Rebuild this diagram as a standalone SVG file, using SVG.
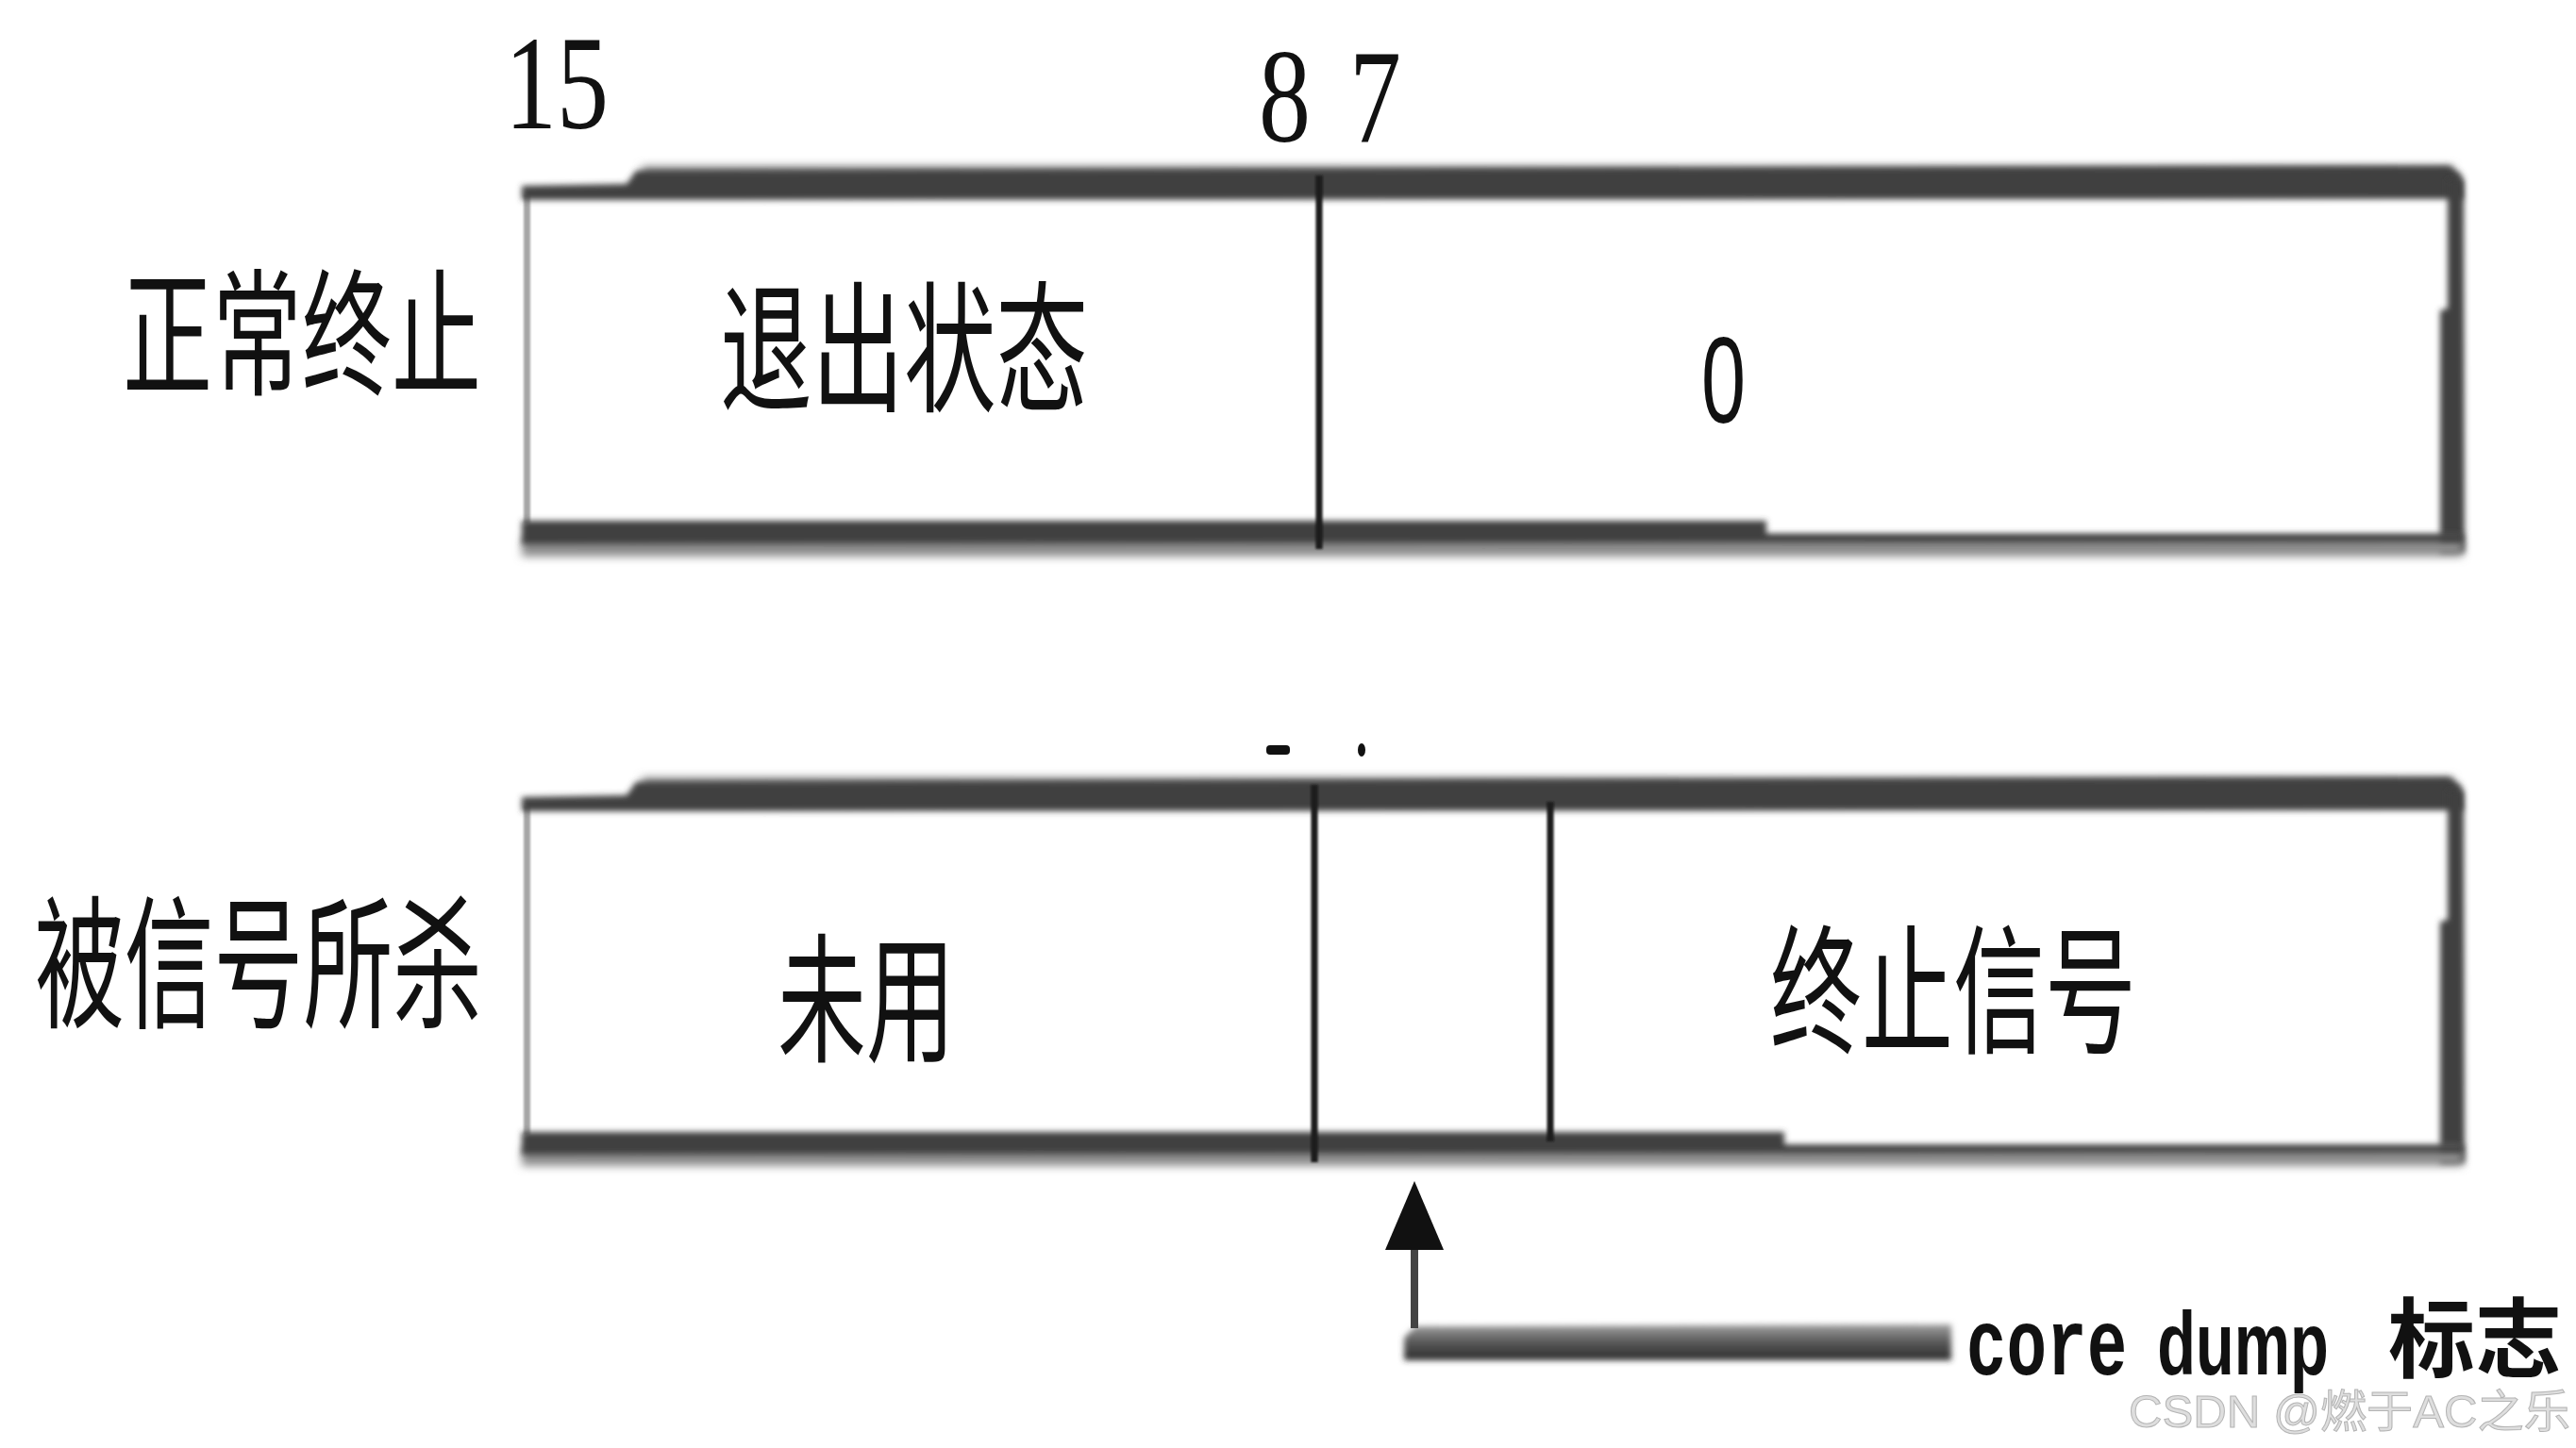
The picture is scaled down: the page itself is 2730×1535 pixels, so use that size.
<svg xmlns="http://www.w3.org/2000/svg" width="2730" height="1535" viewBox="0 0 2730 1535">
<defs>
<filter id="soft" filterUnits="userSpaceOnUse" x="0" y="0" width="2730" height="1535"><feGaussianBlur stdDeviation="3.2"/></filter>
<filter id="softer" filterUnits="userSpaceOnUse" x="0" y="0" width="2730" height="1535"><feGaussianBlur stdDeviation="5"/></filter>
<filter id="thin" filterUnits="userSpaceOnUse" x="0" y="0" width="2730" height="1535"><feGaussianBlur stdDeviation="1.2"/></filter>
<linearGradient id="lineGrad" x1="0" y1="0" x2="0" y2="1">
<stop offset="0" stop-color="#a0a0a0"/>
<stop offset="0.5" stop-color="#585858"/>
<stop offset="1" stop-color="#2a2a2a"/>
</linearGradient>
</defs>
<style>
.cjk{font-family:"Noto Sans CJK SC","Noto Sans CJK JP",sans-serif;fill:#111}
.serif{font-family:"Liberation Serif",serif;fill:#111}
.sans{font-family:"Liberation Sans",sans-serif;fill:#111}
.band{fill:#414141;filter:url(#soft)}
.halo{fill:#8c8c8c;filter:url(#softer)}
.ledge{fill:#a6a6a6;filter:url(#thin)}
.div{stroke:#1c1c1c;stroke-width:7;filter:url(#thin)}
</style>
<rect width="2730" height="1535" fill="#fff"/>

<g id="bit-labels">
<text class="serif" x="535" y="136" font-size="142" textLength="110" lengthAdjust="spacingAndGlyphs">15</text>
<text class="serif" x="1334" y="150" font-size="142" textLength="55" lengthAdjust="spacingAndGlyphs">8</text>
<text class="serif" x="1430" y="150" font-size="142" textLength="55" lengthAdjust="spacingAndGlyphs">7</text>
<rect x="1342" y="790" width="25" height="10" rx="4" fill="#111"/>
<ellipse cx="1443" cy="795" rx="4" ry="7" fill="#111"/>
</g>

<g id="row-normal">
<text class="cjk" x="130" y="408" font-size="145" textLength="380" lengthAdjust="spacingAndGlyphs">正常终止</text>
<g id="box-normal">
<rect x="560" y="210" width="2030" height="345" fill="#fff"/>
<rect class="ledge" x="555" y="206" width="7" height="349"/>
<rect class="halo" x="680" y="176" width="1920" height="14"/>
<polygon class="band" points="553,197 664,195 674,181 2596,176 2609,185 2610,211 553,212"/>
<polygon class="band" points="2594,190 2611,190 2612,586 2586,586 2586,329 2594,327"/>
<rect class="halo" x="553" y="570" width="2057" height="20"/>
<polygon class="band" points="553,552 1872,552 1872,566 2610,566 2610,575 553,577"/>
<line class="div" x1="1398" y1="186" x2="1398" y2="582"/>
</g>
<text class="cjk" x="763" y="425" font-size="150" textLength="390" lengthAdjust="spacingAndGlyphs">退出状态</text>
<text class="sans" x="1803" y="448" font-size="130" textLength="47" lengthAdjust="spacingAndGlyphs">0</text>
</g>

<g id="row-signal">
<text class="cjk" x="37" y="1078" font-size="152" textLength="474" lengthAdjust="spacingAndGlyphs">被信号所杀</text>
<g id="box-signal">
<rect x="560" y="858" width="2030" height="345" fill="#fff"/>
<rect class="ledge" x="555" y="854" width="7" height="349"/>
<rect class="halo" x="680" y="824" width="1920" height="14"/>
<polygon class="band" points="553,845 664,843 674,829 2596,824 2609,833 2610,859 553,860"/>
<polygon class="band" points="2594,838 2611,838 2612,1233 2586,1233 2586,977 2594,975"/>
<rect class="halo" x="553" y="1216" width="2057" height="20"/>
<polygon class="band" points="553,1200 1891,1200 1891,1214 2610,1214 2610,1222 553,1224"/>
<line class="div" x1="1393" y1="832" x2="1393" y2="1232"/>
<line class="div" x1="1643" y1="850" x2="1643" y2="1210"/>
</g>
<text class="cjk" x="824" y="1114" font-size="148" textLength="188" lengthAdjust="spacingAndGlyphs">未用</text>
<text class="cjk" x="1876" y="1105" font-size="148" textLength="388" lengthAdjust="spacingAndGlyphs">终止信号</text>
</g>

<g id="connectors">
<polygon points="1488,1418 1500,1406 2068,1404 2068,1442 1488,1442" fill="url(#lineGrad)" filter="url(#soft)"/>
<line x1="1499" y1="1320" x2="1499" y2="1408" stroke="#444" stroke-width="8"/>
<polygon points="1499,1252 1468,1325 1530,1325" fill="#111"/>
</g>

<g id="core-dump-label">
<text transform="scale(0.71,1)" y="1457" fill="#111"><tspan x="2935" font-family="Liberation Mono, monospace" font-weight="bold" font-size="100">core</tspan><tspan x="3220" font-family="Liberation Sans, sans-serif" font-weight="bold" font-size="94">dump</tspan></text>
<text class="cjk" x="2531" y="1453" font-weight="bold" font-size="92">标志</text>
</g>

<g id="watermark">
<text x="2256" y="1513" font-family="Liberation Sans, Noto Sans CJK SC, sans-serif" font-size="48" fill="#dedede" stroke="#b4b4b4" stroke-width="1" textLength="468" lengthAdjust="spacingAndGlyphs">CSDN @燃于AC之乐</text>
</g>
</svg>
